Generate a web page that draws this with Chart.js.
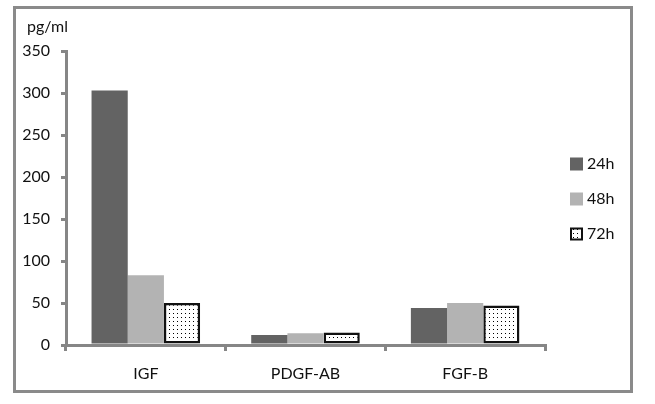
<!DOCTYPE html>
<html>
<head>
<meta charset="utf-8">
<script src="https://cdn.jsdelivr.net/npm/chart.js@4/dist/chart.umd.min.js"></script>
<style>
html,body{margin:0;padding:0;background:#fff;}
#c{display:block;}
</style>
</head>
<body>
<canvas id="c" width="655" height="404"></canvas>
<script>
const categories = ["IGF", "PDGF-AB", "FGF-B"];
const seriesLabels = ["24h", "48h", "72h"];
const values24h = [303, 12, 44];
const values48h = [83, 14, 50];
const values72h = [50, 15, 47];
const yTicks = [0, 50, 100, 150, 200, 250, 300, 350];
const unitLabel = "pg/ml";

const FONT = "Lato, 'Open Sans', sans-serif";
const AXIS = "#868686";
const TXT = "#111111";

function dotPattern() {
  const p = document.createElement("canvas");
  p.width = 4; p.height = 4;
  const g = p.getContext("2d");
  g.fillStyle = "#ffffff";
  g.fillRect(0, 0, 4, 4);
  g.fillStyle = "#000000";
  g.fillRect(1, 1, 1, 1);
  return g.createPattern(p, "repeat");
}
const pat = dotPattern();

const frame = {
  id: "frame",
  beforeDraw(chart) {
    const ctx = chart.ctx;
    ctx.save();
    ctx.fillStyle = "#fff";
    ctx.fillRect(0, 0, chart.width, chart.height);
    ctx.strokeStyle = "#8a8a8a";
    ctx.lineWidth = 3;
    ctx.strokeRect(14.5, 7.5, 617, 384);
    ctx.fillStyle = TXT;
    ctx.font = "16px " + FONT;
    ctx.textBaseline = "middle";
    ctx.textAlign = "left";
    ctx.fillText(unitLabel, 27, 27);
    ctx.restore();
  },
  afterDraw(chart) {
    const ctx = chart.ctx;
    ctx.save();
    ctx.font = "16px " + FONT;
    ctx.textBaseline = "middle";
    ctx.textAlign = "left";
    chart.data.datasets.forEach((ds, i) => {
      const y = 164 + i * 35;
      const x = 570;
      ctx.fillStyle = ds.backgroundColor;
      ctx.fillRect(x, y - 6.5, 13, 13);
      if (ds.borderWidth) {
        ctx.strokeStyle = ds.borderColor;
        ctx.lineWidth = 2;
        ctx.strokeRect(x + 1, y - 5.5, 11, 11);
      }
      ctx.fillStyle = TXT;
      ctx.fillText(ds.label, 587, y);
    });
    ctx.restore();
  }
};

new Chart(document.getElementById("c"), {
  type: "bar",
  data: {
    labels: categories,
    datasets: [
      { label: seriesLabels[0], data: values24h, backgroundColor: "#636363", borderWidth: 0 },
      { label: seriesLabels[1], data: values48h, backgroundColor: "#b3b3b3", borderWidth: 0 },
      { label: seriesLabels[2], data: values72h, backgroundColor: pat, borderColor: "#111111", borderWidth: 2.5, borderSkipped: false }
    ]
  },
  options: {
    responsive: false,
    animation: false,
    devicePixelRatio: 1,
    layout: { padding: { top: 51, right: 110, left: 0, bottom: 0 } },
    datasets: { bar: { categoryPercentage: 0.68, barPercentage: 1.0 } },
    plugins: { legend: { display: false }, tooltip: { enabled: false } },
    scales: {
      x: {
        grid: { display: true, drawOnChartArea: false, offset: true, color: AXIS, lineWidth: 3, tickLength: 6 },
        border: { color: AXIS, width: 3 },
        ticks: { color: TXT, font: { family: FONT, size: 16 }, padding: 13 },
        afterFit(s) { s.height = 59; }
      },
      y: {
        min: 0, max: 350,
        afterBuildTicks(s) { s.ticks = yTicks.map(v => ({ value: v })); },
        grid: { display: true, drawOnChartArea: false, color: AXIS, lineWidth: 3, tickLength: 5 },
        border: { color: AXIS, width: 3 },
        ticks: { color: TXT, font: { family: FONT, size: 16 }, padding: 11 },
        afterFit(s) { s.width = 66; }
      }
    }
  },
  plugins: [frame]
});
</script>
</body>
</html>
